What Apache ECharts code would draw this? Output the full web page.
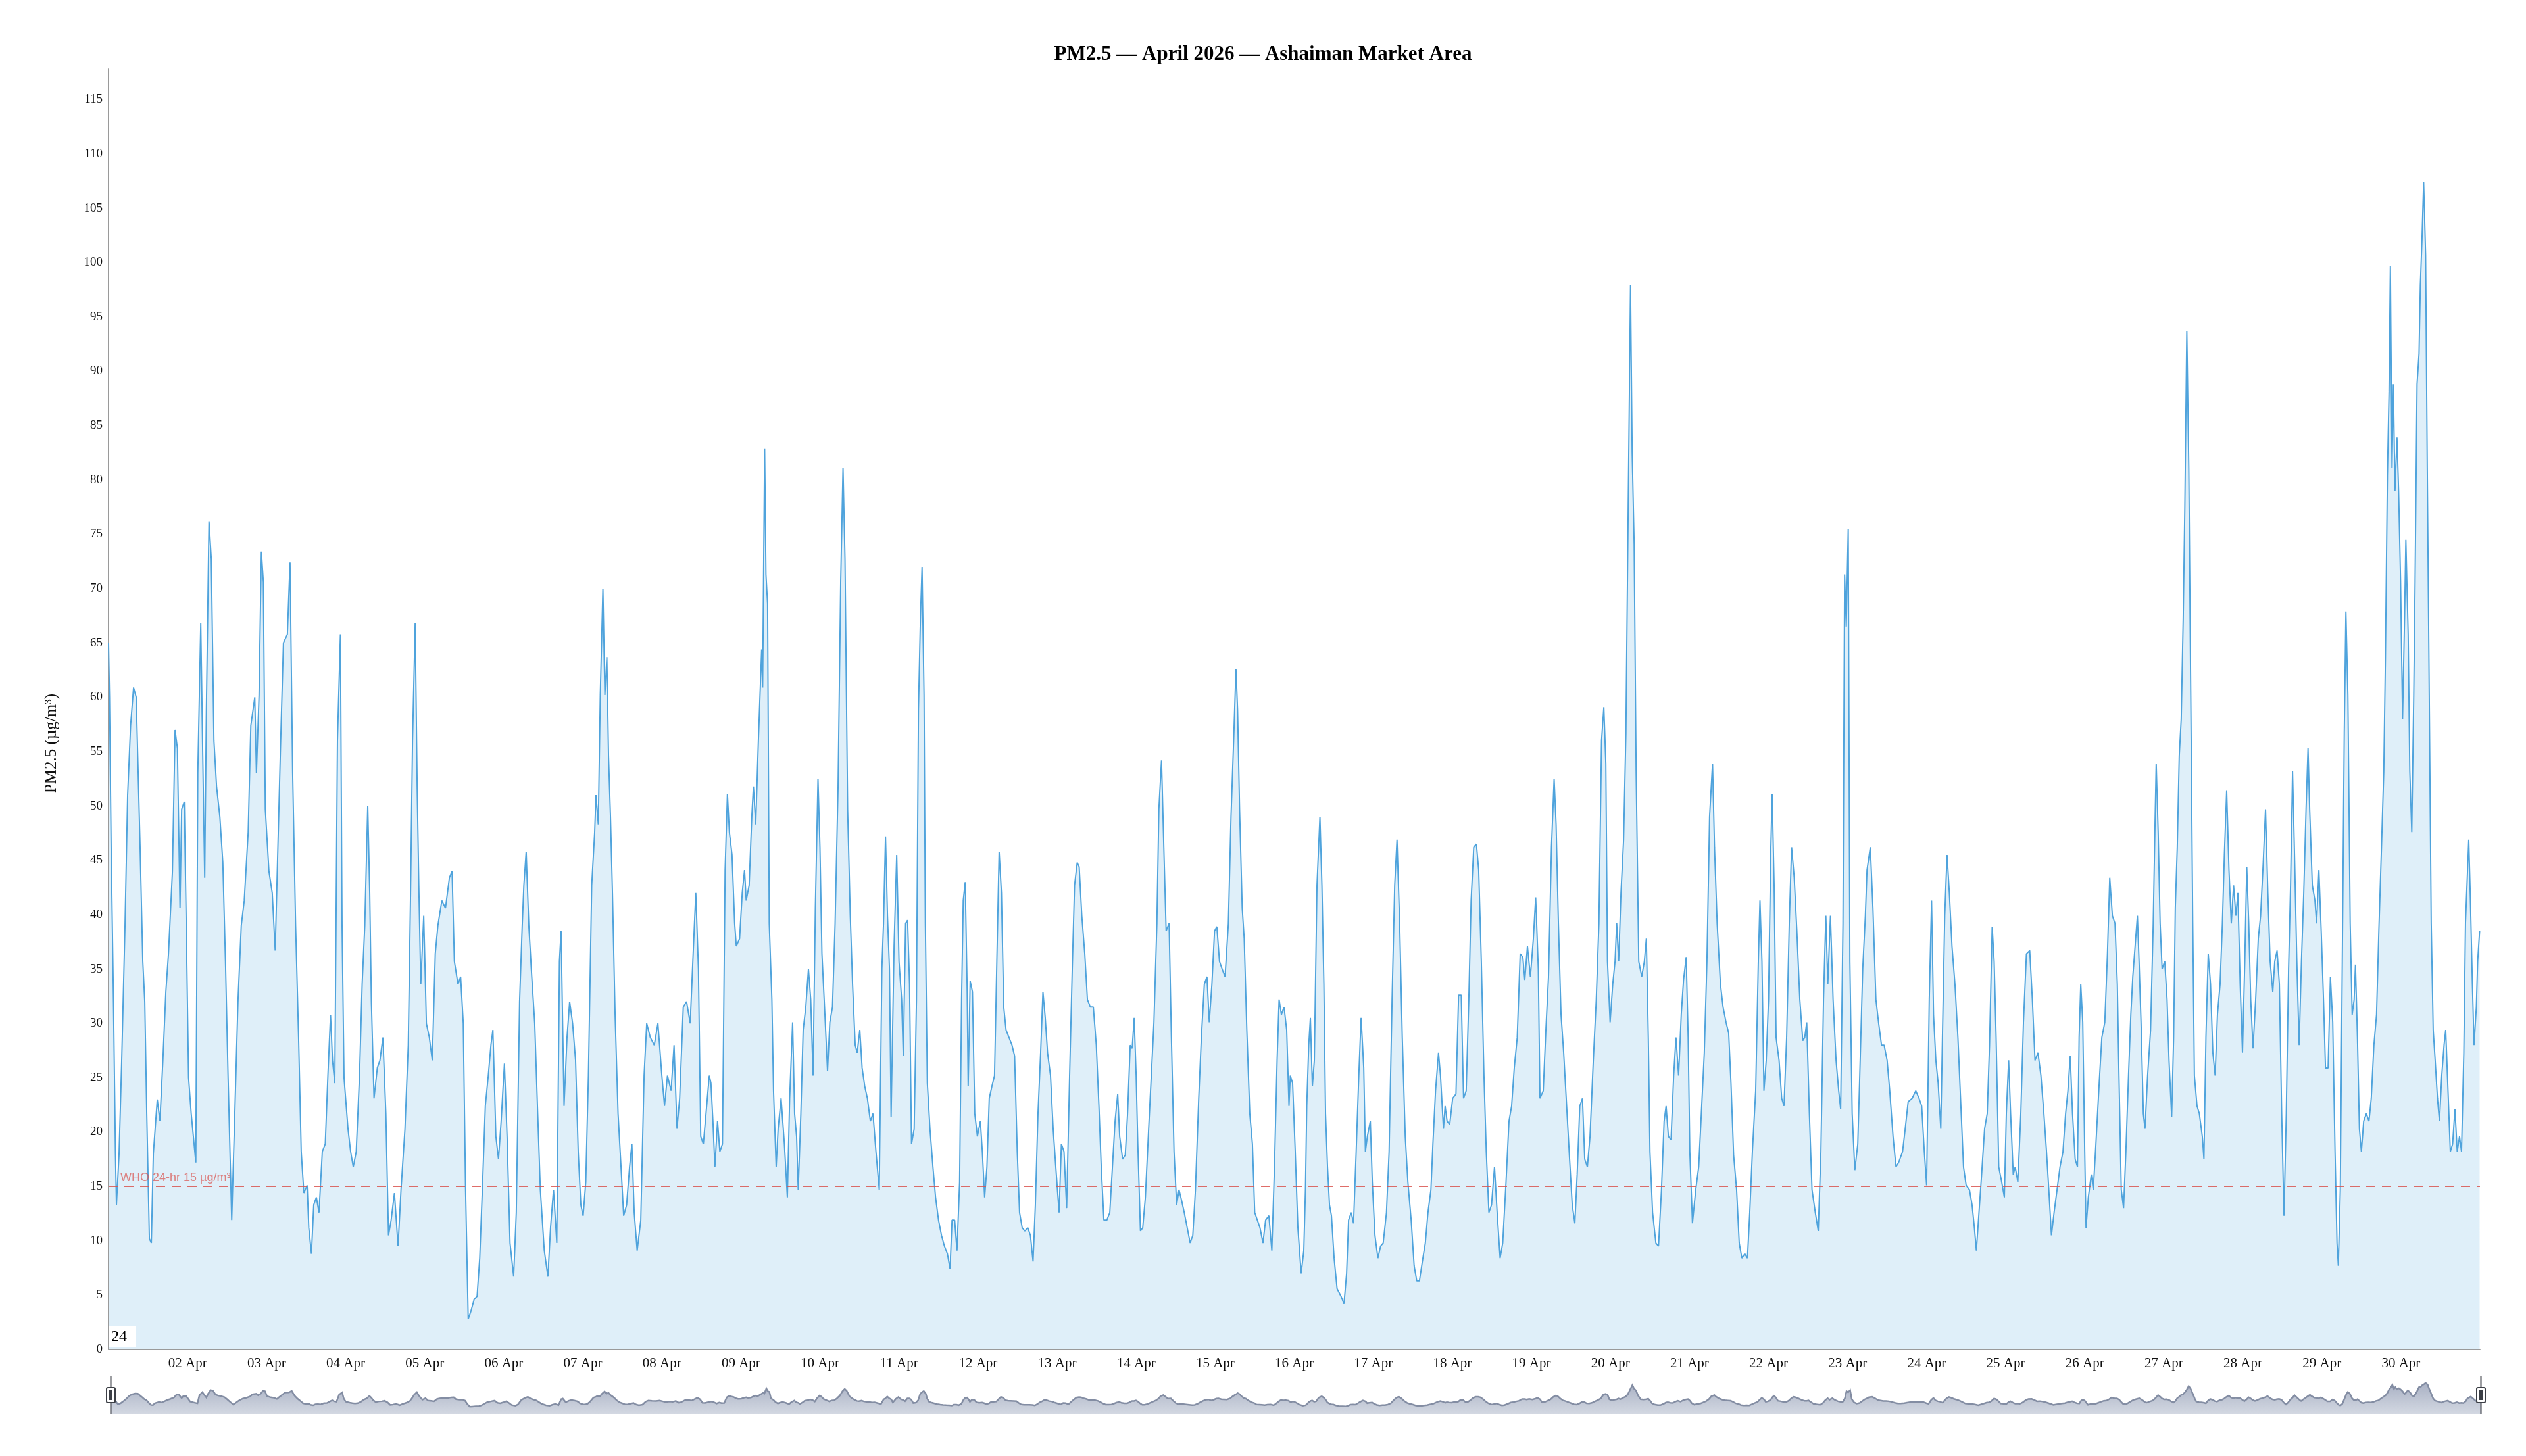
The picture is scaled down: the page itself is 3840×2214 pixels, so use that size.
<!DOCTYPE html>
<html>
<head>
<meta charset="utf-8">
<script src="https://cdn.jsdelivr.net/npm/echarts@6/dist/echarts.min.js"></script>
<style>html,body{margin:0;padding:0;background:#fff}#chart{width:3840px;height:2214px}</style>
</head>
<body>
<div id="chart"></div>
<script>
// Readings: [hours since 01 Apr 2026 00:00, PM2.5 µg/m³]
const readingsApr01to08 = [[0,65],[0.3,60],[0.8,46],[1.5,32],[2.1,18],[2.4,13.3],[3.2,18],[4.0,26.6],[5.0,39],[5.8,51],[6.7,57.4],[7.6,60.9],[8.4,60],[9.0,53],[9.6,46],[10.4,35.7],[11.0,32],[11.6,21.7],[12.4,10.2],[13.0,9.8],[13.6,18],[14.8,23],[15.6,21],[16.5,26.6],[17.4,32.9],[18.2,36.4],[19.4,44],[20.2,57],[20.9,55.3],[21.7,40.6],[22.2,49.7],[23.0,50.4],[23.6,39],[24.3,25],[25.1,21.7],[26.5,17.2],[27.1,53],[28.0,66.8],[28.6,54.6],[29.2,43.4],[29.7,58.8],[30.5,76.2],[31.2,72.7],[32.0,56],[32.8,51.8],[33.8,49],[34.7,44.8],[35.5,35.7],[36.3,25],[37.4,11.9],[38.4,22.4],[39.3,32],[40.3,39],[41.2,41.3],[42.4,47.6],[43.2,57.4],[44.4,60],[44.9,53],[45.7,60.2],[46.4,73.4],[47.0,70.6],[47.6,49.7],[48.7,44],[49.7,42],[50.6,36.7],[51.3,44.8],[52.2,55.3],[53.1,65],[54.3,65.8],[55.1,72.4],[55.9,53],[56.8,39],[57.7,28.7],[58.5,18.2],[59.3,14.4],[60.3,15.1],[60.8,11.2],[61.6,8.8],[62.3,13.3],[63.1,14],[63.9,12.6],[64.9,18.2],[65.8,18.9],[66.6,25.2],[67.4,30.8],[68.0,26.6],[68.7,24.5],[69.5,56],[70.4,65.8],[70.9,39],[71.5,25],[72.7,20.3],[73.5,18.2],[74.3,16.8],[75.2,18.2],[76.2,25.2],[77.0,33.6],[77.8,39],[78.7,50],[79.3,42],[79.8,32],[80.6,23.1],[81.6,25.9],[82.4,26.6],[83.3,28.7],[84.2,21.7],[85.0,10.5],[85.8,11.9],[86.8,14.4],[87.9,9.5],[88.8,14.7],[90.0,20.3],[91.0,28],[91.7,42],[92.3,56],[93.1,66.8],[93.7,51.8],[94.2,42.7],[94.8,33.6],[95.7,39.9],[96.5,30],[97.4,28.7],[98.3,26.6],[99.2,36.4],[100.0,39],[101.2,41.3],[102.3,40.6],[103.5,43.4],[104.3,44],[105.0,35.7],[106.1,33.6],[106.9,34.3],[107.7,30],[108.4,14.7],[109.2,2.8],[110.0,3.5],[111.0,4.6],[111.9,4.9],[112.7,8.4],[113.5,14.7],[114.4,22.4],[115.3,25.2],[116.1,28],[116.7,29.4],[117.6,19.6],[118.4,17.5],[119.2,21],[120.2,26.3],[121.0,19.6],[121.9,9.8],[123.0,6.7],[123.8,12.6],[124.8,32],[125.6,39],[126.1,42.7],[126.8,45.8],[127.6,39],[128.5,34.3],[129.4,30],[130.3,21.7],[131.1,14.7],[132.3,9.1],[133.4,6.7],[134.2,11.2],[135.1,14.7],[136.1,9.8],[136.9,35.7],[137.4,38.5],[138.3,22.4],[139.2,28.7],[140.0,32],[140.9,30],[141.8,26.6],[142.6,18.2],[143.4,13.3],[144.1,12.3],[144.9,15.4],[145.7,25.2],[146.7,42.7],[147.6,47.6],[148.0,51],[148.7,48.3],[149.3,60.2],[150.1,70],[150.7,60.2],[151.3,63.7],[151.8,54.6],[152.4,49],[153.0,42],[153.8,30.8],[154.7,21.7],[155.6,16.8],[156.4,12.3],[157.3,13.3],[158.2,16.8],[158.9,18.9],[159.6,12.6],[160.5,9.1],[161.6,11.9],[162.6,25.2],[163.4,30],[164.5,28.7],[165.7,28],[166.8,30],[168.0,25.2],[168.8,22.4],[169.7,25.2],[170.8,23.8],[171.7,28],[172.6,20.3],[173.4,23.1],[174.5,31.5],[175.5,32],[176.6,30],[177.5,36.4],[178.3,42],[179.1,35],[179.8,19.6]];

const readingsApr08to15 = [[180.6,18.9],[181.4,21.7],[182.4,25.2],[182.9,24.5],[183.5,21],[184.1,16.8],[184.9,21],[185.6,18.2],[186.4,18.9],[187.2,44.1],[187.9,51.1],[188.5,47.6],[189.3,45.5],[190.1,39.2],[190.6,37.1],[191.6,37.8],[192.4,42],[193.1,44.1],[193.6,41.3],[194.5,42.7],[195.3,49],[195.8,51.8],[196.5,48.3],[197.3,56],[198.3,64.4],[198.6,60.9],[199.2,82.9],[199.6,71.3],[200.1,68.6],[200.6,39.2],[201.4,32.2],[201.9,23.8],[202.7,16.8],[203.3,20.3],[204.2,23.1],[205.2,18.9],[206.1,14],[206.8,23.1],[207.7,30.1],[208.3,21.7],[208.9,19.6],[209.4,14.7],[210.2,21.7],[210.9,29.4],[211.7,31.5],[212.5,35],[213.2,32.2],[213.9,25.2],[214.6,40.6],[215.4,52.5],[216.0,46.2],[216.6,36.4],[217.5,30.8],[218.3,25.6],[219.0,30.1],[219.8,31.5],[220.6,39.2],[221.5,51.8],[222.3,70.7],[223.0,81.1],[223.6,72.7],[224.4,49.7],[225.2,39.9],[225.9,33.6],[226.7,28],[227.3,27.3],[228.1,29.4],[228.8,25.9],[229.6,24.2],[230.4,23.1],[231.3,21],[232.1,21.7],[233.0,18.2],[234.0,14.7],[234.8,35],[235.3,39.2],[235.9,47.2],[236.5,39.9],[237.1,35],[237.6,21.4],[238.5,37.1],[239.3,45.5],[240.0,35.7],[240.8,32.2],[241.3,27],[242.0,39.2],[242.6,39.5],[243.2,33.6],[243.8,18.9],[244.6,20.3],[245.3,32.2],[245.9,58.8],[246.5,67.2],[247.0,72],[247.6,60.2],[248.0,39.2],[248.6,24.5],[249.4,20.3],[250.3,16.8],[251.1,14],[252.0,11.9],[252.9,10.5],[253.8,9.5],[254.7,8.8],[255.5,7.4],[256.1,11.9],[256.9,11.9],[257.6,9.1],[258.4,15.4],[259.0,32.2],[259.5,41.3],[260.1,43],[260.7,32.9],[261.0,24.2],[261.6,33.9],[262.3,32.9],[263.0,21.7],[263.8,19.6],[264.7,21],[265.3,18.2],[266.0,14],[266.7,16.8],[267.4,23.1],[268.2,24.2],[269.0,25.2],[269.7,35.7],[270.4,45.8],[271.1,42],[271.8,31.5],[272.5,29.4],[273.4,28.7],[274.3,28],[275.1,27],[275.9,18.2],[276.6,12.6],[277.4,11.2],[278.2,10.9],[279.1,11.2],[279.9,10.5],[280.7,8.1],[281.4,13.3],[282.2,21.7],[283.0,27.3],[283.7,32.9],[284.4,30.5],[285.1,27.3],[286.0,25.2],[286.8,20.3],[287.6,16.8],[288.6,12.6],[289.3,18.9],[290.1,18.2],[290.9,13],[291.8,25.2],[292.6,35],[293.3,42.7],[294.1,44.8],[294.7,44.4],[295.5,39.9],[296.4,36.4],[297.2,32.2],[298.1,31.5],[299.0,31.5],[299.9,28],[300.7,22.4],[301.4,16.8],[302.2,11.9],[303.1,11.9],[304.0,12.6],[304.8,16.8],[305.6,21],[306.4,23.5],[307.0,19.6],[307.9,17.5],[308.7,17.9],[309.4,21.7],[310.2,28],[310.8,27.7],[311.4,30.5],[312.0,25.2],[312.5,18.9],[313.3,10.9],[314.0,11.2],[314.8,14],[315.8,20.3],[316.6,25.2],[317.4,30.1],[318.3,39.2],[318.9,49.7],[319.7,54.2],[320.4,46.2],[321.1,38.5],[322.0,39.2],[322.7,28.7],[323.5,18.2],[324.3,13.3],[325.0,14.7],[325.8,13.7],[326.6,12.6],[327.5,11.2],[328.4,9.8],[329.2,10.5],[330.0,14.7],[331.0,23.1],[331.8,28.7],[332.7,33.6],[333.5,34.3],[334.2,30.1],[335.0,33.6],[335.8,38.5],[336.5,38.9],[337.3,35.7],[338.1,35],[339.0,34.3],[340.0,39.2],[340.8,49],[341.6,56],[342.3,62.6],[342.8,58.8],[343.4,49.7],[344.2,40.6],[344.8,37.8],[345.6,29.4],[346.5,21.7],[347.3,18.9],[348.0,12.6],[348.8,11.9],[349.6,11.2],[350.5,9.8],[351.3,11.9],[352.3,12.3],[353.2,9.1],[354.0,16.8],[354.8,26.6],[355.4,32.2],[356.1,30.8],[356.9,31.5],[357.7,29.4],[358.4,22.4],[358.8,25.2],[359.5,24.5]];

const readingsApr16to23 = [[360.3,18.2],[361.1,11.2],[362.1,7],[362.9,9.1],[363.4,14.7],[363.8,22.4],[364.4,28],[364.9,30.5],[365.5,24.2],[366.1,26.6],[366.9,42.7],[367.8,49],[368.4,42.7],[369.0,33.6],[369.5,21.7],[370.1,16.8],[370.7,13.3],[371.3,12.3],[372.1,8.4],[373.0,5.6],[374.2,4.9],[375.1,4.2],[375.9,7],[376.5,11.9],[377.3,12.6],[378.0,11.6],[378.8,18.2],[379.6,25.2],[380.3,30.5],[381.1,25.9],[381.6,18.2],[382.2,19.6],[383.1,21],[383.7,15.4],[384.5,10.5],[385.4,8.4],[386.2,9.5],[387.0,9.8],[388.0,12.6],[388.8,18.2],[389.7,32.2],[390.5,42.7],[391.2,46.9],[392.0,39.2],[392.8,28.7],[393.7,19.6],[394.5,15.4],[395.5,11.9],[396.4,7.7],[397.2,6.3],[398.0,6.3],[398.9,8.1],[399.8,9.8],[400.6,12.6],[401.5,14.7],[402.1,18.9],[402.9,23.8],[403.8,27.3],[404.4,25.2],[405.3,20.3],[405.8,22.4],[406.4,21],[407.2,20.7],[408.1,23.1],[409.1,23.5],[409.9,32.6],[410.7,32.6],[411.4,23.1],[412.2,23.8],[413.0,32.2],[413.7,41.3],[414.5,46.2],[415.3,46.5],[416.0,44.1],[416.8,35.7],[417.6,25.2],[418.3,18.2],[419.1,12.6],[419.9,13.3],[420.8,16.8],[421.6,12.6],[422.5,8.4],[423.3,9.8],[424.3,15.4],[425.2,21],[426.0,22.4],[426.8,25.9],[427.7,28.7],[428.6,36.4],[429.4,36.1],[430.0,34],[430.8,37.1],[431.7,34.3],[432.6,37.8],[433.3,41.6],[434.1,35],[434.6,23.1],[435.6,23.8],[436.4,29.4],[437.2,34.3],[438.1,46.2],[438.9,52.5],[439.5,48.3],[440.2,39.2],[441.0,30.8],[441.8,27.3],[442.7,22.4],[443.6,17.5],[444.4,13.3],[445.2,11.6],[445.9,16.1],[446.7,22.4],[447.5,23.1],[448.2,17.5],[449.0,16.8],[449.8,19.6],[450.8,26.6],[451.7,32.2],[452.5,39.2],[453.3,56],[454.0,59.1],[454.6,53.9],[455.1,35.7],[455.9,30.1],[456.7,33.6],[457.4,35.7],[457.9,39.2],[458.5,35.7],[459.2,42],[460.0,46.9],[460.7,56.7],[461.4,77.6],[462.1,97.9],[462.6,82.5],[463.2,74.1],[463.8,53.2],[464.6,35.7],[465.5,34.3],[466.3,35.7],[466.9,37.8],[467.5,28.7],[468.0,18.2],[468.8,12.6],[469.8,9.8],[470.6,9.5],[471.5,14.7],[472.3,21],[472.9,22.4],[473.6,19.6],[474.4,19.3],[475.2,25.2],[475.9,28.7],[476.7,25.2],[477.5,30.8],[478.2,34],[479.0,36.1],[479.6,28.7],[480.1,18.2],[480.9,11.6],[481.9,14.7],[482.8,16.8],[483.6,21.7],[484.5,27.3],[485.3,35.7],[486.1,49],[487.0,53.9],[487.6,46.2],[488.4,39.2],[489.4,33.6],[490.2,31.5],[491.1,30.1],[491.9,29.1],[492.6,24.5],[493.4,17.9],[494.3,14.7],[495.1,9.8],[495.9,8.4],[496.8,8.8],[497.6,8.4],[498.3,12.6],[499.1,18.2],[500.1,23.8],[500.9,35.7],[501.4,41.3],[502.0,35.7],[502.6,23.8],[503.3,26.6],[504.0,32.2],[504.7,46.2],[505.1,51.1],[505.7,42.7],[506.3,28.7],[507.2,26.6],[508.0,23.1],[508.7,22.4],[509.5,28.7],[510.3,39.2],[511.0,46.2],[511.8,43.4],[512.6,38.5],[513.5,32.2],[514.4,28.4],[515.0,28.7],[515.6,30.1],[516.4,21.7],[517.2,14.7],[518.2,12.6],[519.1,10.9],[519.9,18.2],[520.7,32.2],[521.4,39.9],[522.0,33.6],[522.8,39.9],[523.6,32.2],[524.5,26.6],[525.3,23.8],[525.9,22.1],[526.6,39.2],[527.1,71.3],[527.6,66.5],[528.2,75.5],[528.7,35.7],[529.4,21.7],[530.2,16.5],[531.1,18.9],[531.7,25.2],[532.6,35],[533.4,39.9],[533.9,44.1],[534.9,46.2],[535.7,40.6],[536.6,32.2],[537.4,30.1],[538.3,28],[539.1,28]];

const readingsApr23to30 = [[540.0,26.6],[540.8,23.8],[541.8,19.6],[542.7,16.8],[543.5,17.2],[544.7,18.2],[545.5,20.3],[546.4,22.8],[547.6,23.1],[548.7,23.8],[549.7,23.1],[550.5,22.4],[551.3,18.2],[552.0,15.1],[552.8,32.2],[553.5,41.3],[554.1,30.8],[554.8,26.6],[555.5,24.5],[556.3,20.3],[556.8,28.7],[557.5,39.9],[558.2,45.5],[558.9,42],[559.7,37.1],[560.6,33.6],[561.5,28.7],[562.3,23.1],[563.2,16.8],[564.0,15.1],[565.0,14.7],[565.8,13.3],[566.5,11.2],[567.1,9.1],[567.9,12.6],[568.7,16.1],[569.6,20.3],[570.4,21.7],[571.1,28],[571.9,38.9],[572.5,35.7],[573.1,28.7],[573.9,16.8],[574.8,15.4],[575.6,14],[576.2,21.7],[576.9,26.6],[577.5,21.7],[578.3,16.1],[578.9,16.8],[579.7,15.4],[580.6,21.7],[581.4,30.1],[582.3,36.4],[583.3,36.7],[584.1,32.2],[584.9,26.6],[585.8,27.3],[586.7,25.2],[587.6,21.7],[588.4,18.2],[589.1,14.7],[589.9,10.5],[590.7,12.6],[591.6,14.7],[592.5,16.8],[593.4,18.2],[594.2,21.7],[594.9,23.8],[595.6,27],[596.3,21.7],[597.1,17.5],[597.8,16.8],[598.3,28.7],[598.8,33.6],[599.4,30.1],[600.0,18.2],[600.4,11.2],[601.1,14],[602.0,16.1],[602.6,14.7],[603.4,18.9],[604.4,24.5],[605.2,28.7],[606.1,30.1],[606.9,36.4],[607.6,43.4],[608.4,39.9],[609.2,39.2],[609.9,33.6],[610.4,25.2],[611.1,14.7],[611.8,13],[612.5,18.2],[613.3,25.2],[614.0,30.8],[614.6,34.3],[615.3,37.1],[616.0,39.9],[616.5,35.7],[617.1,30.1],[617.8,21.7],[618.3,20.3],[619.1,25.2],[620.0,29.4],[620.8,39.2],[621.3,47.6],[621.7,53.9],[622.3,47.6],[622.9,39.2],[623.5,35],[624.3,35.7],[625.0,32.2],[625.6,26.6],[626.4,21.4],[627.0,28.7],[627.5,40.6],[628.1,46.2],[628.7,54.6],[629.3,58],[629.9,67.2],[630.4,77.6],[631.0,93.7],[631.6,81.1],[632.2,60.2],[632.8,39.2],[633.3,25.2],[634.1,22.4],[634.8,21.7],[635.7,19.6],[636.2,17.5],[636.8,28.7],[637.5,36.4],[638.2,33.6],[638.9,27.3],[639.6,25.2],[640.3,30.8],[641.1,33.6],[641.8,39.2],[642.4,45.5],[643.1,51.4],[643.8,44.1],[644.5,39.2],[645.2,42.7],[645.9,39.9],[646.5,42],[647.2,33.6],[647.9,27.3],[648.6,35.7],[649.2,44.4],[649.8,39.2],[650.4,32.2],[651.1,27.7],[651.9,32.2],[652.7,37.8],[653.4,39.9],[654.2,44.8],[654.9,49.7],[655.6,42],[656.3,35.7],[657.1,32.9],[657.7,35.7],[658.4,36.7],[659.1,33.6],[659.8,21.7],[660.5,12.3],[661.2,21.7],[661.9,35],[662.5,42.7],[663.1,53.2],[663.7,45.5],[664.4,35.7],[665.1,28],[665.8,35.7],[666.5,42],[667.2,49.7],[667.8,55.3],[668.3,49.7],[669.1,42.7],[669.9,41.3],[670.4,39.2],[671.1,44.1],[671.8,38.5],[672.5,32.2],[673.1,25.9],[673.9,25.9],[674.6,34.3],[675.3,30.1],[676.0,18.2],[676.6,9.8],[677.0,7.7],[677.6,14.7],[678.2,35.7],[678.8,56.7],[679.3,67.9],[679.9,60.2],[680.6,39.2],[681.2,30.8],[681.8,32.2],[682.2,35.4],[682.8,28.7],[683.4,20.3],[684.0,18.2],[684.7,21],[685.5,21.7],[686.3,21],[687.0,23.1],[687.8,28],[688.6,30.8],[689.3,38.5],[690.1,46.2],[690.8,53.2],[691.3,63.7],[691.9,80.4],[692.4,88.1],[692.8,99.7],[693.3,81.1],[693.7,88.8],[694.2,79],[694.8,83.9],[695.3,79],[695.9,70.7],[696.5,58],[697.1,67.2],[697.5,74.5],[698.2,65.8],[698.7,53.2],[699.3,47.6],[699.9,60.2],[700.3,70.7],[700.9,88.8],[701.5,91.6],[701.9,97.9],[702.4,102.1],[702.9,107.4],[703.5,100.7],[704.0,81.1],[704.6,60.2],[705.2,39.2],[705.8,29.4],[706.4,26.6],[707.1,23.1],[707.7,21],[708.4,25.2],[709.1,28],[709.6,29.4],[710.3,23.8],[711.0,18.2],[711.7,18.9],[712.4,22.1],[713.1,18.2],[713.8,19.6],[714.4,18.2],[715.1,27.3],[715.6,39.2],[716.6,46.9],[717.1,41.3],[717.7,33.6],[718.2,28],[718.9,31.5],[719.3,35.7],[719.9,38.5]];

const monthNames = ['Jan','Feb','Mar','Apr','May','Jun','Jul','Aug','Sep','Oct','Nov','Dec'];
const chartTitle = 'PM2.5 — April 2026 — Ashaiman Market Area';
const yAxisName = 'PM2.5 (µg/m³)';
const whoLimit = 15;
const whoLabel = 'WHO 24-hr 15 µg/m³';
const cornerNote = '24';

const startTime = new Date(2026, 3, 1, 0, 0, 0).getTime();
const endTime = new Date(2026, 4, 1, 0, 0, 0).getTime();
const HOUR = 3600 * 1000;
const DAY = 24 * HOUR;

const allReadings = [].concat(readingsApr01to08, readingsApr08to15, readingsApr16to23, readingsApr23to30);
const seriesData = allReadings.map(r => [startTime + r[0] * HOUR, r[1]]);

const serif = '"Liberation Serif", "Times New Roman", Times, serif';
const sans = '"Liberation Sans", Arial, Helvetica, sans-serif';

// slider handle: vertical rule through a rounded grip with two inner bars
const handlePath = 'path://M6.5,0V17M6.5,40V58M2,17H11A2,2,0,0,1,13,19V38A2,2,0,0,1,11,40H2A2,2,0,0,1,0,38V19A2,2,0,0,1,2,17ZM5,21V36M8,21V36';

const chart = echarts.init(document.getElementById('chart'));
chart.setOption({
  animation: false,
  backgroundColor: '#ffffff',
  textStyle: { fontFamily: serif },
  title: {
    text: chartTitle,
    left: 'center',
    top: 62,
    textStyle: { fontFamily: serif, fontWeight: 'bold', fontSize: 31, color: '#000' }
  },
  grid: { left: 165, right: 70, top: 105, bottom: 162, containLabel: false },
  xAxis: {
    type: 'time',
    min: startTime,
    max: endTime,
    minInterval: DAY,
    maxInterval: DAY,
    splitLine: { show: false },
    axisTick: { show: false },
    axisLine: { lineStyle: { color: '#9a9a9a', width: 2 } },
    axisLabel: {
      fontFamily: serif,
      fontSize: 21,
      color: '#111',
      margin: 11,
      hideOverlap: false,
      formatter: function (value) {
        if (value <= startTime || value >= endTime) return '';
        const d = new Date(value);
        const dd = String(d.getDate()).padStart(2, '0');
        return dd + ' ' + monthNames[d.getMonth()];
      }
    }
  },
  yAxis: {
    type: 'value',
    min: 0,
    max: 117.8,
    interval: 5,
    name: yAxisName,
    nameLocation: 'middle',
    nameGap: 74,
    nameTextStyle: { fontFamily: serif, fontSize: 25, color: '#111', padding: [0, 104, 0, 0] },
    splitLine: { show: false },
    axisTick: { show: false },
    axisLine: { show: true, lineStyle: { color: '#9a9a9a', width: 2 } },
    axisLabel: { fontFamily: serif, fontSize: 19, color: '#111', margin: 9, showMaxLabel: false }
  },
  dataZoom: [{
    type: 'slider',
    xAxisIndex: 0,
    left: 165,
    right: 70,
    top: 2092,
    height: 58,
    start: 0,
    end: 100,
    showDetail: false,
    brushSelect: false,
    borderColor: 'transparent',
    backgroundColor: 'transparent',
    fillerColor: 'rgba(0,0,0,0)',
    handleIcon: handlePath,
    handleSize: '100%',
    handleStyle: { color: '#ffffff', borderColor: '#3c3f46', borderWidth: 2 },
    moveHandleSize: 3,
    moveHandleStyle: { color: '#3c3f46', opacity: 1 },
    emphasis: { handleStyle: { borderColor: '#3c3f46' }, moveHandleStyle: { color: '#3c3f46' } },
    dataBackground: {
      lineStyle: { color: '#838da3', width: 2.5, opacity: 1 },
      areaStyle: { color: '#b6bdcc', opacity: 1 }
    },
    selectedDataBackground: {
      lineStyle: { color: '#838da3', width: 2.5, opacity: 1 },
      areaStyle: {
        opacity: 1,
        color: new echarts.graphic.LinearGradient(0, 0, 0, 1, [
          { offset: 0, color: '#d3d8e2' },
          { offset: 1, color: '#a9b1c4' }
        ])
      }
    }
  }],
  series: [{
    type: 'line',
    name: 'PM2.5',
    data: seriesData,
    showSymbol: false,
    symbol: 'none',
    sampling: 'none',
    smooth: false,
    lineStyle: { color: '#4fa3dc', width: 2 },
    itemStyle: { color: '#4fa3dc' },
    areaStyle: { color: '#5dade2', opacity: 0.2 },
    markLine: {
      silent: true,
      symbol: 'none',
      lineStyle: { color: '#d9534f', type: [14, 10], width: 2, opacity: 0.85 },
      label: {
        show: true,
        position: 'insideStartTop',
        formatter: whoLabel,
        fontFamily: sans,
        fontSize: 18,
        color: 'rgba(217,83,79,0.85)',
        padding: [0, 0, 0, 14],
        distance: 4
      },
      data: [{ yAxis: whoLimit }]
    }
  }],
  graphic: [{
    type: 'text',
    left: 166,
    top: 2017,
    z: 100,
    style: {
      text: cornerNote,
      font: '24px ' + serif,
      fill: '#000',
      backgroundColor: '#ffffff',
      padding: [4, 14, 4, 3]
    }
  }]
});
</script>
</body>
</html>
